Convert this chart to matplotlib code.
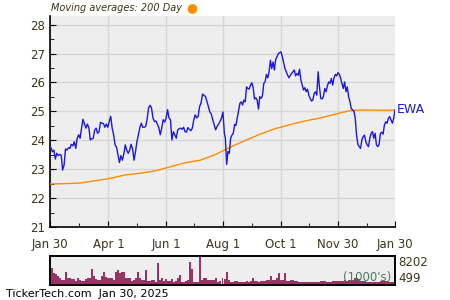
import numpy as np
import pandas as pd
import matplotlib
matplotlib.use("Agg")
import matplotlib.pyplot as plt

# ---- data ----
price_a = [23.74, 23.60, 23.66, 23.35, 23.55, 23.47, 23.51, 23.49, 22.97, 23.14,
           23.70, 23.66, 23.74, 23.72, 23.86, 23.81, 23.95, 23.72, 24.07, 24.19,
           24.07, 24.42, 24.73, 24.56, 24.42, 24.56, 24.44, 24.01, 24.05, 24.07,
           24.36, 24.42, 24.24, 24.30, 24.62, 24.59, 24.58, 24.45, 24.56, 24.45,
           24.65, 24.83, 24.42, 24.19, 23.84, 23.76, 23.49, 23.23, 23.47, 23.31,
           23.52, 23.84, 23.66, 23.55, 23.66, 23.86, 23.70, 23.31, 23.60, 23.95,
           24.19, 24.44, 24.59, 24.45, 24.45, 24.48, 24.74, 25.12, 25.21, 25.12,
           24.77, 24.65, 24.67, 24.56, 24.44, 24.19, 24.42, 24.71, 24.63, 24.77,
           25.06, 24.77, 24.71, 24.01, 24.30, 24.19, 24.07, 24.36, 24.40, 24.42,
           24.38, 24.45, 24.30, 24.28, 24.44, 24.38, 24.33, 24.42, 24.71, 24.88,
           24.77, 24.83, 25.17, 25.29, 25.60, 25.55, 25.52, 25.35, 25.17, 24.98,
           24.91, 24.71, 24.53, 24.36, 24.48, 24.56, 24.65, 24.77, 24.98, 24.24]
price_b = [24.07, 23.17, 23.61, 23.55, 24.07, 24.18, 24.24, 24.55, 24.51, 24.76,
           25.01, 25.28, 25.33, 25.22, 25.39, 25.33, 25.85, 25.79, 25.77, 25.91,
           25.99, 25.82, 25.43, 25.47, 25.39, 25.08, 25.51, 25.45, 25.54, 25.97,
           26.02, 26.28, 26.16, 26.37, 26.77, 26.48, 26.71, 26.43, 26.80, 26.89,
           27.00, 27.03, 27.06, 26.89, 26.69, 26.48, 26.37, 26.25, 26.16, 26.25,
           26.31, 26.37, 26.43, 26.23, 26.31, 26.25, 26.46, 26.08, 25.91, 25.74,
           25.82, 25.68, 25.77, 25.56, 25.45, 25.36, 25.39, 25.62, 25.68, 25.56,
           26.37, 25.85, 25.45, 25.43, 25.51, 25.79, 25.68, 25.89, 26.02, 25.97,
           26.14, 25.91, 26.16, 26.28, 26.23, 26.34, 26.28, 26.14, 25.97, 25.79,
           26.02, 25.68, 25.85, 25.51, 25.33, 25.10, 25.05, 25.01, 24.76, 24.18,
           23.86, 23.78, 23.72, 24.01, 24.13, 24.18, 23.95, 23.84, 23.78, 24.07,
           24.24, 24.30, 24.07, 24.24, 23.84, 23.78, 23.86, 24.24, 24.28, 24.21,
           24.53, 24.64, 24.59, 24.76, 24.82, 24.70, 24.59, 24.76, 25.05]
ma200 = [22.49, 22.50, 22.52, 22.60, 22.68, 22.80, 22.86, 22.94, 23.08, 23.22,
         23.31, 23.50, 23.76, 23.99, 24.21, 24.40, 24.54, 24.67, 24.77, 24.90,
         25.03, 25.05, 25.04, 25.04]
volume_k = [4240, 4720, 3300, 3020, 2640, 2070, 1510, 1410, 3770, 2070,
            1890, 1700, 1600, 1130, 1890, 1320, 1130, 1130, 1700, 1890,
            2070, 4530, 2640, 1700, 1410, 1410, 2640, 3580, 2360, 1890,
            2070, 2070, 1410, 3580, 4240, 3300, 3580, 3580, 1890, 2070,
            2070, 1130, 1320, 2070, 3580, 2070, 1410, 1410, 4240, 1130,
            1130, 1410, 1320, 940, 6130, 1410, 1890, 1130, 1700, 1130,
            1130, 1700, 940, 1130, 1890, 2830, 940, 940, 1130, 1320,
            6410, 4530, 940, 940, 750, 8020, 1410, 1890, 1890, 1410,
            1410, 1410, 1410, 1890, 940, 1130, 1890,
            1700, 3770, 1410, 940, 940, 1130, 1130, 750, 940, 940,
            940, 1130, 750, 1130, 2070, 1130, 1130, 940, 1130, 1130,
            1130, 1410, 1410, 2640, 1410, 1410, 2070, 3300, 1410, 1410,
            3300, 1130, 1130, 1410, 1410, 1130, 1130, 750, 750, 750,
            940, 750, 940, 940, 940, 940, 940, 940, 1130, 1130,
            1130, 940, 940, 940, 1130, 1130, 1130, 1130, 1130, 1130,
            1320, 1130, 1410, 1410, 1410, 1890, 1890, 1700, 1130, 1130,
            1130, 940, 940, 940, 940, 940, 940, 940, 1130, 1130,
            1130, 1130, 750, 750, 750, 750]
x_ticks = ["2024-01-30", "2024-04-01", "2024-06-01", "2024-08-01",
           "2024-10-01", "2024-11-30", "2025-01-30"]
x_labels = ["Jan 30", "Apr 1", "Jun 1", "Aug 1", "Oct 1", "Nov 30", "Jan 30"]
x_minor = ["2024-03-01", "2024-05-01", "2024-07-01", "2024-08-31",
           "2024-10-31", "2024-12-31"]
y_ticks = [21, 22, 23, 24, 25, 26, 27, 28]
vol_max, vol_min = 8202, 499

start, end = pd.Timestamp("2024-01-30"), pd.Timestamp("2025-01-30")
dates_a = pd.date_range("2024-01-31", "2024-08-02", periods=len(price_a))
dates_b = pd.date_range("2024-08-03", "2025-01-30", periods=len(price_b))
dates = dates_a.append(dates_b)
prices = price_a + price_b
ma_dates = pd.date_range(start, end, periods=len(ma200))
vol_dates = pd.date_range(start, end, periods=len(volume_k))

txt = "#3d3418"
fig = plt.figure(figsize=(4.5, 3.0), dpi=100)
ax = fig.add_axes([50/450, 1-227/300, 345/450, 211/300])
ax.set_facecolor("#eeeeee")
ax.plot(ma_dates, ma200, color="#ff8c00", lw=1.0, zorder=3)
ax.plot(dates, prices, color="#1a1adc", lw=1.0, zorder=4)
ax.set_xlim(start, end)
ax.set_ylim(21, 28.3)
ax.set_yticks(y_ticks)
ax.set_yticks(np.arange(21.5, 28.3, 1.0), minor=True)
ax.set_xticks(pd.to_datetime(x_ticks))
ax.set_xticklabels(x_labels)
ax.set_xticks(pd.to_datetime(x_minor), minor=True)
ax.grid(True, which="major", color="#d6d6d6", lw=1.0, zorder=0)
ax.set_axisbelow(True)
for s in ["top", "right"]:
    ax.spines[s].set_visible(False)
for s in ["left", "bottom"]:
    ax.spines[s].set_color("black")
    ax.spines[s].set_linewidth(1.2)
ax.tick_params(axis="both", which="both", direction="in", colors="black",
               labelcolor=txt, labelsize=8.5)
ax.tick_params(which="major", length=4)
ax.tick_params(which="minor", length=3)
ax.tick_params(axis="x", pad=8)
ax.text(1.005, (25.05 - 21) / 7.3, "EWA", transform=ax.transAxes, color="#1a1adc",
        fontsize=9, va="center", ha="left")

fig.text(51/450, 1-8/300, "Moving averages: 200 Day", fontsize=7.0, style="italic",
         color=txt, va="center", ha="left")
fig.text(192/450, 1-7.5/300, "\u25cf", fontsize=9, color="#ff8c00", va="center", ha="center")

vax = fig.add_axes([50/450, 1-285/300, 345/450, 29/300])
vax.set_facecolor("#eeeeee")
width = (end - start) / len(volume_k)
vax.bar(vol_dates, volume_k, width=width * 1.0, color="#993366", align="center")
vax.set_xlim(start, end)
vax.set_ylim(0, vol_max)
vax.set_xticks([])
vax.set_yticks([])
for s in vax.spines.values():
    s.set_color("black")
    s.set_linewidth(1.4)
vax.text(1.01, 1.0, str(vol_max), transform=vax.transAxes, fontsize=8.5, color=txt,
         va="top", ha="left")
vax.text(1.01, 0.0, str(vol_min), transform=vax.transAxes, fontsize=8.5, color=txt,
         va="bottom", ha="left")
vax.text(0.99, 0.02, "(1000's)", transform=vax.transAxes, fontsize=8.5,
         color="#4a7a5a", va="bottom", ha="right")

fig.text(6/450, 1-294/300, "TickerTech.com  Jan 30, 2025", fontsize=8, color="black",
         va="center", ha="left")

fig.savefig("out.png", dpi=100)
